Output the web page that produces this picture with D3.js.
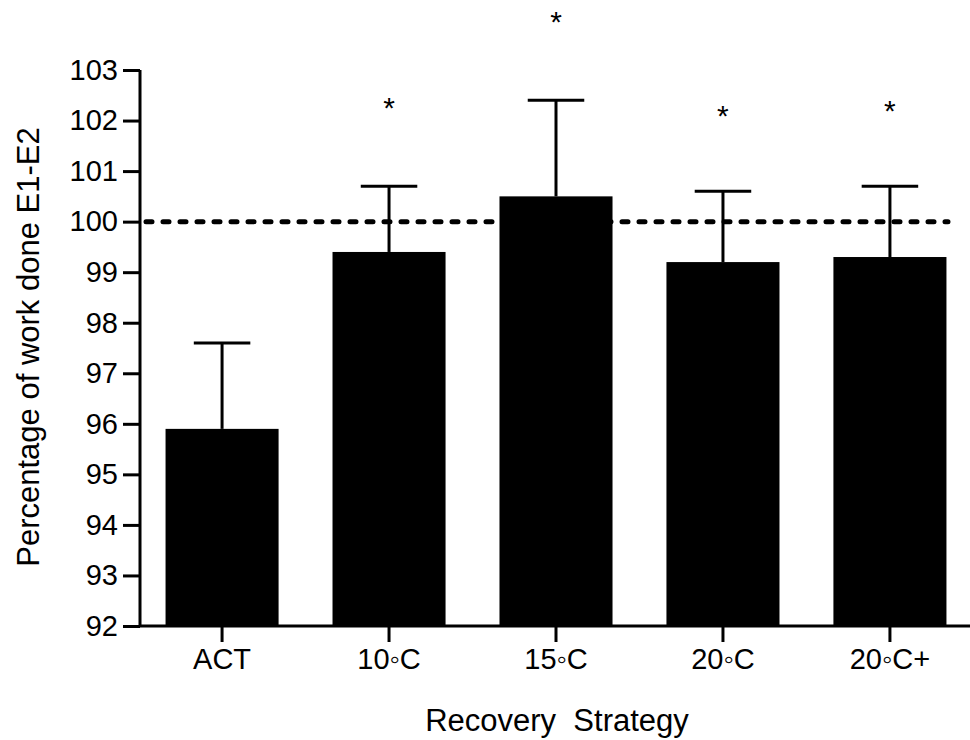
<!DOCTYPE html>
<html>
<head>
<meta charset="utf-8">
<script src="https://cdn.jsdelivr.net/npm/d3@7"></script>
<style>
  body { margin: 0; background: #fff; }
  text { font-family: "Liberation Sans", Arial, sans-serif; }
</style>
</head>
<body>
<div id="chart"></div>
<script>
// data
var strategies = ["ACT", "10\u25E6C", "15\u25E6C", "20\u25E6C", "20\u25E6C+"];
var means = [95.9, 99.4, 100.5, 99.2, 99.3];
var errTops = [97.6, 100.7, 102.4, 100.6, 100.7];
var starLevels = [null, 102.4, 104.1, 102.25, 102.35];
var yTicks = [92, 93, 94, 95, 96, 97, 98, 99, 100, 101, 102, 103];
var refLine = 100;

var width = 970, height = 740;
var svg = d3.select("#chart").append("svg")
    .attr("width", width)
    .attr("height", height);

var xScale = d3.scaleBand()
    .domain(strategies)
    .range([140, 972])
    .paddingInner(0.323)
    .paddingOuter(0.153);

var yScale = d3.scaleLinear()
    .domain([92, 103])
    .range([626, 70]);

//Bars
svg.selectAll("rect.bar")
    .data(strategies)
    .enter().append("rect")
    .attr("class", "bar")
    .attr("x", function(d) { return xScale(d); })
    .attr("y", function(d, i) { return yScale(means[i]); })
    .attr("width", xScale.bandwidth())
    .attr("height", function(d, i) { return yScale(92) - yScale(means[i]); })
    .attr("fill", "#000");

//Error bars (upper only)
var errG = svg.append("g")
    .attr("stroke", "#000")
    .attr("stroke-width", 3);

errG.selectAll("line.stem")
    .data(strategies)
    .enter().append("line")
    .attr("x1", function(d) { return xScale(d) + xScale.bandwidth() / 2; })
    .attr("x2", function(d) { return xScale(d) + xScale.bandwidth() / 2; })
    .attr("y1", function(d, i) { return yScale(means[i]); })
    .attr("y2", function(d, i) { return yScale(errTops[i]); });

errG.selectAll("line.cap")
    .data(strategies)
    .enter().append("line")
    .attr("x1", function(d) { return xScale(d) + xScale.bandwidth() / 4; })
    .attr("x2", function(d) { return xScale(d) + xScale.bandwidth() * 3 / 4; })
    .attr("y1", function(d, i) { return yScale(errTops[i]); })
    .attr("y2", function(d, i) { return yScale(errTops[i]); });

//Reference line at 100
svg.append("line")
    .attr("x1", 146)
    .attr("x2", 948)
    .attr("y1", yScale(refLine))
    .attr("y2", yScale(refLine))
    .attr("stroke", "#000")
    .attr("stroke-width", 5)
    .attr("stroke-linecap", "round")
    .attr("stroke-dasharray", "6,11");

//Significance stars
svg.selectAll("text.star")
    .data(strategies.filter(function(d, i) { return starLevels[i] != null; }))
    .enter().append("text")
    .attr("class", "star")
    .attr("x", function(d) { return xScale(d) + xScale.bandwidth() / 2; })
    .attr("y", function(d) { return yScale(starLevels[strategies.indexOf(d)]); })
    .attr("dy", "0.6em")
    .attr("text-anchor", "middle")
    .attr("font-size", 30)
    .attr("font-family", "DejaVu Sans, sans-serif")
    .text("*");

//Y-Axis
var yAxis = svg.append("g")
    .attr("transform", "translate(140,0)")
    .call(d3.axisLeft(yScale).tickValues(yTicks).tickSize(17).tickPadding(5).tickFormat(d3.format("d")));
yAxis.select(".domain")
    .attr("stroke-width", 3)
    .attr("d", "M0," + yScale(103) + "V" + yScale(92));
yAxis.selectAll(".tick line").attr("stroke-width", 3);
yAxis.selectAll("text")
    .attr("font-size", 29)
    .attr("font-family", "Liberation Sans, Arial, sans-serif")
    .attr("fill", "#000");

//X-Axis
var xAxis = svg.append("g")
    .attr("transform", "translate(0,626)")
    .call(d3.axisBottom(xScale).tickSize(16).tickPadding(6));
xAxis.select(".domain")
    .attr("stroke-width", 3)
    .attr("d", "M140,0H970");
xAxis.selectAll(".tick line").attr("stroke-width", 3);
xAxis.selectAll("text")
    .attr("font-size", 29)
    .attr("font-family", "Liberation Sans, Arial, sans-serif")
    .attr("fill", "#000");

//Axis titles
svg.append("text")
    .attr("x", 557)
    .attr("y", 731)
    .attr("text-anchor", "middle")
    .attr("font-size", 31)
    .style("white-space", "pre")
    .text("Recovery  Strategy");

svg.append("text")
    .attr("transform", "translate(39,347) rotate(-90)")
    .attr("text-anchor", "middle")
    .attr("font-size", 31)
    .text("Percentage of work done E1-E2");
</script>
</body>
</html>
